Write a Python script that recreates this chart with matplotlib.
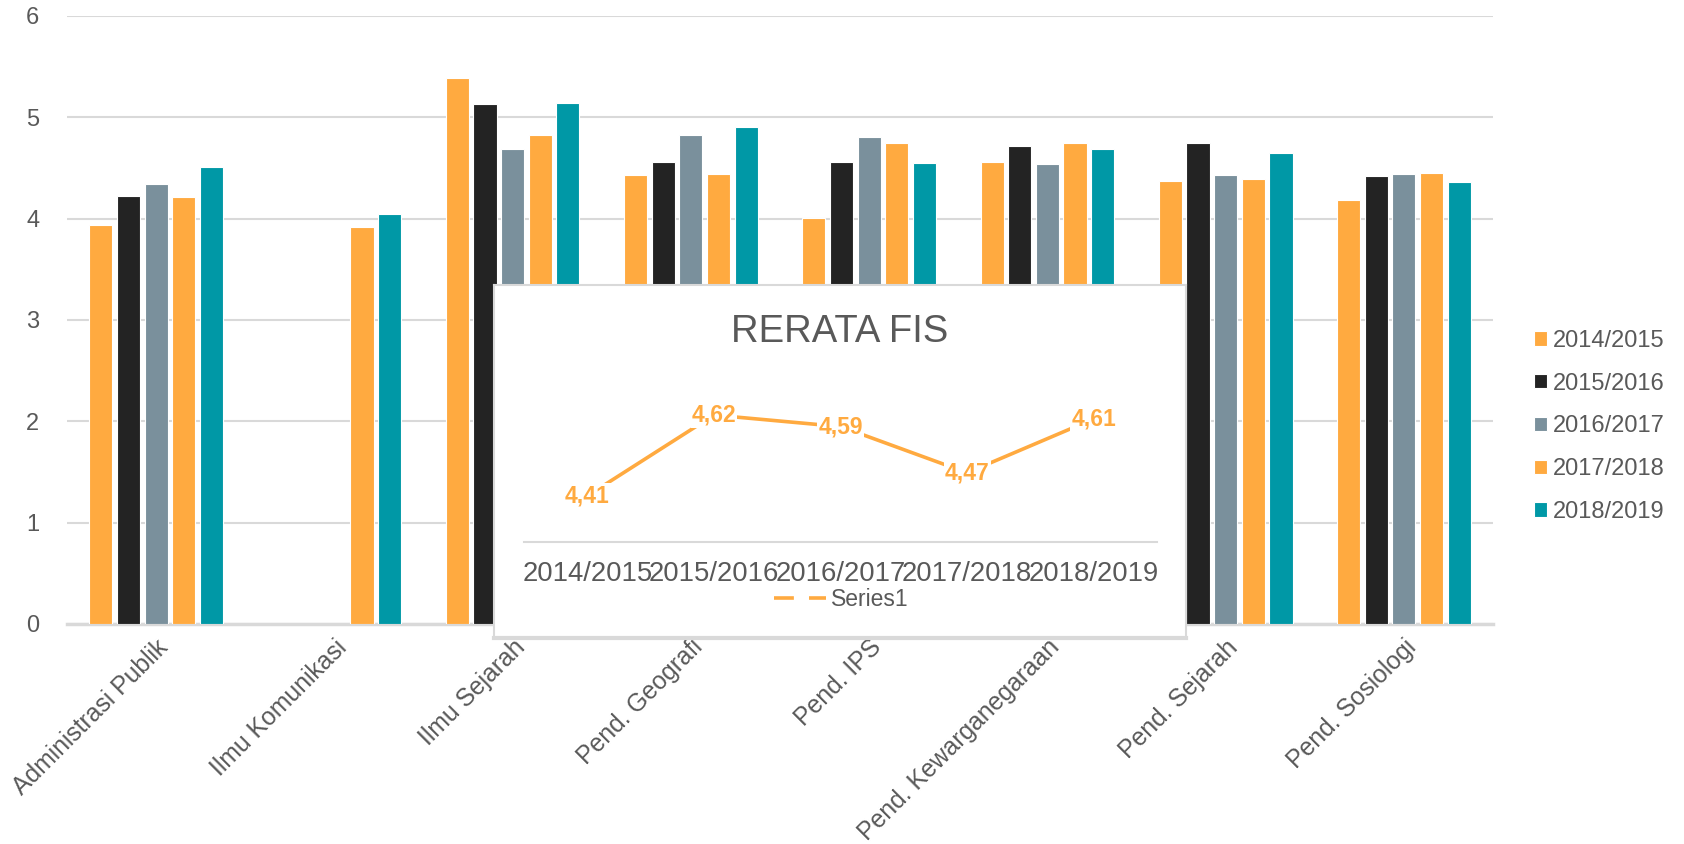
import numpy as np
import matplotlib
matplotlib.use("Agg")
import matplotlib.pyplot as plt
from matplotlib.lines import Line2D

plt.rcParams['font.family'] = ['Liberation Sans', 'DejaVu Sans']

# ---------------- DATA ----------------
prodi = ["Administrasi Publik", "Ilmu Komunikasi", "Ilmu Sejarah", "Pend. Geografi",
         "Pend. IPS", "Pend. Kewarganegaraan", "Pend. Sejarah", "Pend. Sosiologi"]
tahun = ["2014/2015", "2015/2016", "2016/2017", "2017/2018", "2018/2019"]

v_2014 = [3.94, np.nan, 5.39, 4.43, 4.01, 4.56, 4.37, 4.18]
v_2015 = [4.22, np.nan, 5.13, 4.56, 4.56, 4.72, 4.75, 4.42]
v_2016 = [4.34, np.nan, 4.69, 4.83, 4.81, 4.54, 4.43, 4.44]
v_2017 = [4.21, 3.92, 4.83, 4.44, 4.75, 4.75, 4.39, 4.45]
v_2018 = [4.51, 4.05, 5.14, 4.90, 4.55, 4.69, 4.65, 4.36]

rerata_fis = [4.41, 4.62, 4.59, 4.47, 4.61]
rerata_lbl = ["4,41", "4,62", "4,59", "4,47", "4,61"]

warna = ["#FFAA40", "#232323", "#7A909C", "#FFAA40", "#0098A6"]
ORANYE = "#FFAA40"
ABU = "#595959"
GRID = "#D9D9D9"

# ---------------- FIGURE ----------------
fig = plt.figure(figsize=(16.84, 8.44), dpi=100)
ax = fig.add_axes([0.0398, 0.2607, 0.8468, 0.7204])

x = np.arange(len(prodi))
slot = 0.155
for i, (nama, vals) in enumerate(zip(tahun, [v_2014, v_2015, v_2016, v_2017, v_2018])):
    ax.bar(x + (i - 2) * slot, vals, width=0.13, color=warna[i], label=nama,
           edgecolor="white", linewidth=0.8, zorder=3)

ax.set_xlim(-0.5, len(prodi) - 0.5)
ax.set_ylim(0, 6)
ax.set_yticks(range(7))
ax.grid(axis="y", color=GRID, linewidth=1.5, zorder=0)
for s in ["top", "right", "left"]:
    ax.spines[s].set_visible(False)
ax.spines["bottom"].set_color(GRID)
ax.spines["bottom"].set_linewidth(2.5)
ax.tick_params(axis="y", length=0, pad=20, labelsize=17, labelcolor=ABU)
ax.tick_params(axis="x", length=0, pad=8, labelsize=17.8, labelcolor=ABU)
ax.set_xticks(x)
ax.set_xticklabels(prodi, rotation=45, ha="right", va="top", rotation_mode="anchor")

ax.legend(loc="center left", bbox_to_anchor=(1.022, 0.325), frameon=False,
          fontsize=17, labelcolor=ABU, handlelength=0.55, handleheight=0.55,
          handletextpad=0.25, labelspacing=0.88, borderaxespad=0)

# ---------------- INSET RERATA FIS ----------------
box = fig.add_axes([0.2933, 0.2441, 0.4110, 0.4180])
box.set_xticks([])
box.set_yticks([])
box.set_facecolor("white")
for s in box.spines.values():
    s.set_color(GRID)
    s.set_linewidth(1.5)
box.spines["bottom"].set_linewidth(3)
box.set_zorder(5)
box.set_title("RERATA FIS", fontsize=27.5, color=ABU, y=0.815)

ins = fig.add_axes([0.3112, 0.3578, 0.3759, 0.2097])
ins.set_zorder(6)
ins.patch.set_alpha(0)
xi = np.arange(len(tahun))
ins.plot(xi, rerata_fis, color=ORANYE, linewidth=2.6, zorder=2)
for xx, yy, t in zip(xi, rerata_fis, rerata_lbl):
    ins.text(xx, yy, t, ha="center", va="center", fontsize=16.5, fontweight="bold",
             color=ORANYE, zorder=3,
             bbox=dict(boxstyle="square,pad=0.05", facecolor="white", edgecolor="none"))
ins.set_xlim(-0.5, 4.5)
ins.set_ylim(4.29, 4.75)
ins.set_yticks([])
ins.set_xticks(xi)
ins.set_xticklabels(tahun)
ins.tick_params(axis="x", length=0, pad=14, labelsize=19.8, labelcolor=ABU)
for s in ["top", "right", "left"]:
    ins.spines[s].set_visible(False)
ins.spines["bottom"].set_color(GRID)
ins.spines["bottom"].set_linewidth(1.5)

h = Line2D([], [], color=ORANYE, linewidth=2.6, linestyle=(0, (5.5, 4.2)))
fig.legend(handles=[h], labels=["Series1"], loc="center",
           bbox_to_anchor=(841 / 1684, 1 - 600 / 844), frameon=False,
           fontsize=16.5, labelcolor=ABU, handlelength=2.3, handletextpad=0.2,
           borderaxespad=0).set_zorder(7)

fig.savefig("out.png", dpi=100)
